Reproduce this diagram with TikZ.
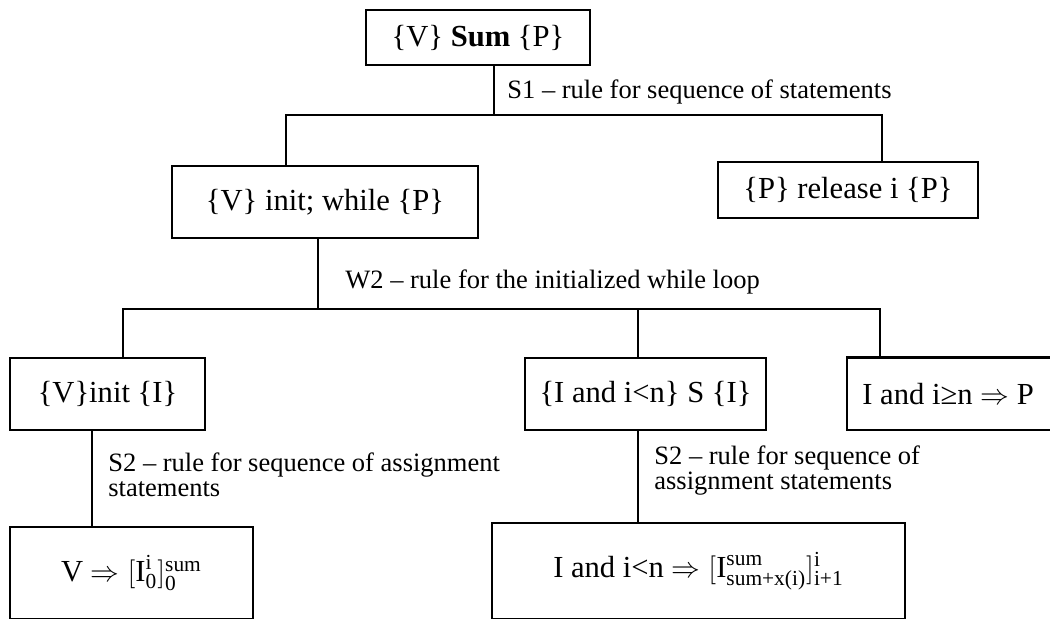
\documentclass[tikz,border=0pt]{standalone}
\usepackage{amsmath}
\usepackage{fontspec}
\setmainfont{Liberation Serif}
\usetikzlibrary{positioning}

\begin{document}
\begin{tikzpicture}[
  x=0.5pt, y=-0.5pt,
  font=\fontsize{15.3}{18}\selectfont,
  rulebox/.style={draw, line width=1.3pt, align=center, inner sep=3pt},
  rulenote/.style={anchor=west, inner sep=0pt, align=left, font=\fontsize{13.25}{12.5}\selectfont},
  tree/.style={line width=1pt},
]
\useasboundingbox (0,0) rectangle (1050,618);
\clip (0,0) rectangle (1050,618);

% proof goals
\node[rulebox, minimum width=112pt, minimum height=27.5pt] (sum) at (478,37.5)
    {\{V\} \textbf{Sum} \{P\}};
\node[rulebox, minimum width=153pt, minimum height=36pt] (initw) at (325,202)
    {\{V\} init; while \{P\}};
\node[rulebox, minimum width=130pt, minimum height=28pt] (rel) at (848,190)
    {\{P\} release i \{P\}};
\node[rulebox, minimum width=97.5pt, minimum height=36pt] (init) at (107.5,394)
    {\{V\}init \{I\}};
\node[rulebox, minimum width=120.5pt, minimum height=36pt] (body) at (645.5,394)
    {\{I and i<n\} S \{I\}};
% this one runs off the right edge
\node[anchor=west, inner xsep=7.5pt, inner ysep=0pt, minimum height=36pt] (stay) at (847,394)
    {I and i≥n $\Rightarrow$ P};
\coordinate (stayend) at (1100,430);
\draw[line width=1.3pt] (stay.north west) rectangle (stayend);
\node[rulebox, minimum width=121.5pt, minimum height=46pt] (base) at (131.5,573)
    {V $\Rightarrow [\text{I}^{\text{i}}_{\text{0}}]^{\text{sum}}_{\text{0}}$};
\node[rulebox, minimum width=206.5pt, minimum height=48pt] (incr) at (698.5,571)
    {I and i<n $\Rightarrow [\text{I}^{\text{sum}}_{\text{sum+x(i)}}]^{\text{i}}_{\text{i+1}}$};

% S1 split
\coordinate (s1) at (494,115);
\coordinate (s1l) at (286,115);
\coordinate (s1r) at (882,115);
\draw[tree] (sum.south -| s1) -- (s1);
\draw[tree] (initw.north -| s1l) -- (s1l) -- (s1r) -- (rel.north -| s1r);
\node[rulenote] (s1txt) at (507,92) {S1 – rule for sequence of statements};

% W2 split
\coordinate (w2) at (318,309);
\coordinate (w2l) at (123,309);
\coordinate (w2m) at (638,309);
\coordinate (w2r) at (880,309);
\draw[tree] (initw.south -| w2) -- (w2);
\draw[tree] (init.north -| w2l) -- (w2l) -- (w2r) -- (stay.north -| w2r);
\draw[tree] (w2m) -- (body.north -| w2m);
\node[rulenote] (w2txt) at (345,282) {W2 – rule for the initialized while loop};

% S2 steps
\coordinate (s2l) at (92,480);
\coordinate (s2m) at (638,480);
\draw[tree] (init.south -| s2l) -- (base.north -| s2l);
\draw[tree] (body.south -| s2m) -- (incr.north -| s2m);
\node[rulenote] (s2ltxt) at (108,474.5) {S2 – rule for sequence of assignment\\statements};
\node[rulenote] (s2mtxt) at (654,470.5) {S2 – rule for sequence of\\assignment statements};
\end{tikzpicture}
\end{document}
